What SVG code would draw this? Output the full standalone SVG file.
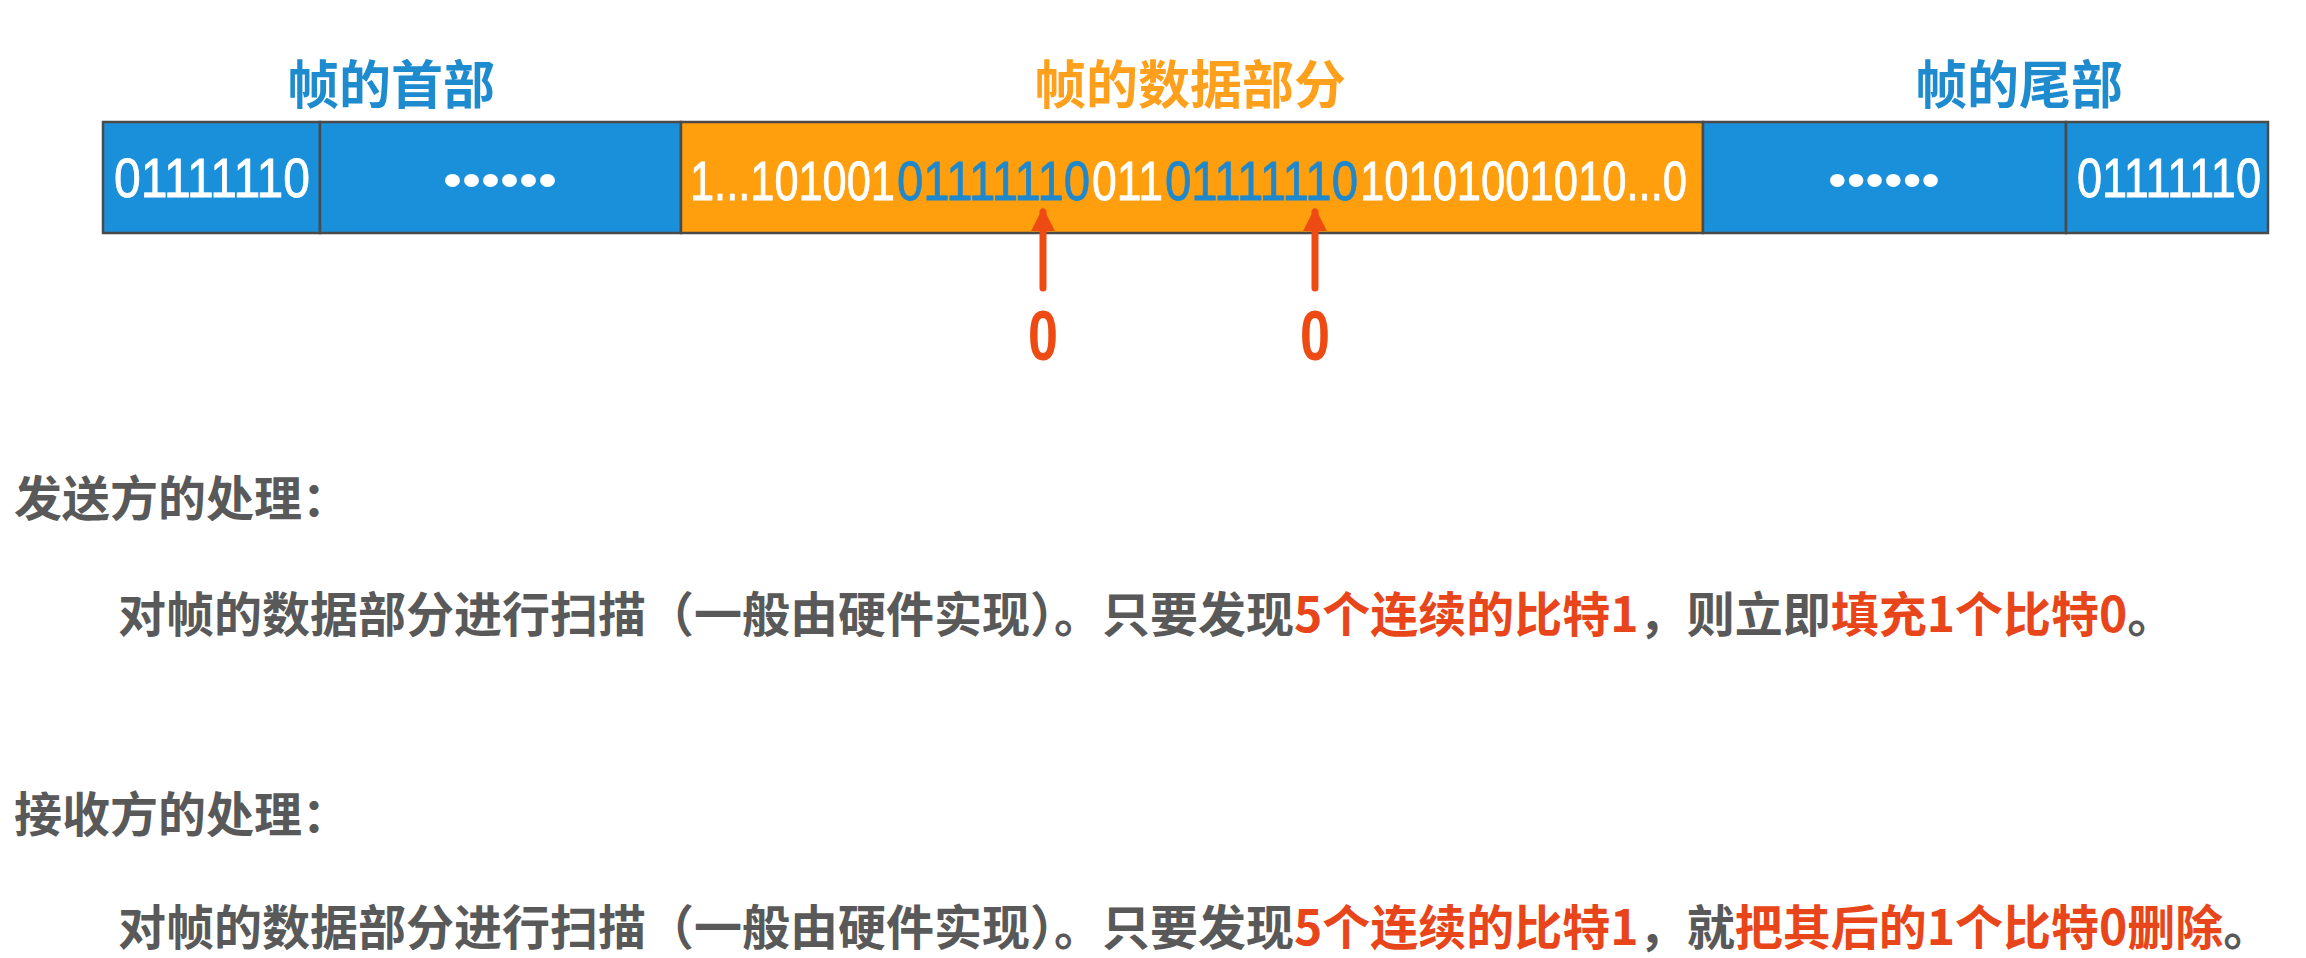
<svg xmlns="http://www.w3.org/2000/svg" width="2306" height="958" viewBox="0 0 2306 958">
<defs>
<style>
.cjk{font-family:"Noto Sans CJK SC","Noto Sans",sans-serif;font-weight:700;}
.title{font-size:52px;text-anchor:middle;}
.bits{font-family:"Liberation Sans",Arial,sans-serif;font-size:56px;fill:#ffffff;stroke:#ffffff;stroke-width:0.8;}
.bb{fill:#1f88cc;stroke:#1f88cc;}
.dots{font-family:"Liberation Sans",Arial,sans-serif;font-size:48px;fill:#ffffff;text-anchor:middle;}
.box{stroke:#4a4a4a;stroke-width:2.5;}
.blue{fill:#1b90da;}
.orange{fill:#ff9f0e;}
.body{font-size:48px;fill:#595959;}
.hl{fill:#e8461a;}
.arrow{stroke:#ee4b14;stroke-width:7;stroke-linecap:round;fill:none;}
.zero{font-family:"Liberation Sans",Arial,sans-serif;font-weight:700;font-size:70px;fill:#ee4b14;text-anchor:middle;}
</style>
<marker id="ah" viewBox="0 0 10 10" refX="8" refY="5" markerWidth="3.4" markerHeight="3.4" orient="auto" markerUnits="strokeWidth">
<path d="M0,0 L10,5 L0,10 Z" fill="#ee4b14"/>
</marker>
</defs>
<rect width="2306" height="958" fill="#ffffff"/>

<g id="label-head"><text class="cjk title" x="391" y="104" fill="#1e8bcf">帧的首部</text></g>
<g id="label-data"><text class="cjk title" x="1190" y="104" fill="#ffa01c">帧的数据部分</text></g>
<g id="label-tail"><text class="cjk title" x="2019" y="104" fill="#1e8bcf">帧的尾部</text></g>

<g id="flag-start">
<rect class="box blue" x="103" y="122" width="217" height="111"/>
<text class="bits" x="114" y="197" textLength="196" lengthAdjust="spacingAndGlyphs">01111110</text>
</g>
<g id="head-rest">
<rect class="box blue" x="320" y="122" width="361" height="111"/>
<text class="dots" x="500" y="196" textLength="114" lengthAdjust="spacingAndGlyphs">••••••</text>
</g>
<g id="data">
<rect class="box orange" x="681" y="122" width="1022" height="111"/>
<g transform="translate(690,200) scale(0.7815,1)">
<text class="bits" x="0" y="0" textLength="262.3" lengthAdjust="spacingAndGlyphs">1...101001</text>
<text class="bits bb" x="264.9" y="0" textLength="247" lengthAdjust="spacingAndGlyphs">01111110</text>
<text class="bits" x="514.4" y="0" textLength="90.9" lengthAdjust="spacingAndGlyphs">011</text>
<text class="bits bb" x="607.8" y="0" textLength="247" lengthAdjust="spacingAndGlyphs">01111110</text>
<text class="bits" x="857.3" y="0" textLength="418.4" lengthAdjust="spacingAndGlyphs">10101001010...0</text>
</g>
</g>
<g id="tail-rest">
<rect class="box blue" x="1703" y="122" width="363" height="111"/>
<text class="dots" x="1884" y="196" textLength="112" lengthAdjust="spacingAndGlyphs">••••••</text>
</g>
<g id="flag-end">
<rect class="box blue" x="2066" y="122" width="202" height="111"/>
<text class="bits" x="2077" y="197" textLength="184" lengthAdjust="spacingAndGlyphs">01111110</text>
</g>

<g id="connectors">
<line class="arrow" x1="1043" y1="288" x2="1043" y2="212" marker-end="url(#ah)"/>
<line class="arrow" x1="1315" y1="288" x2="1315" y2="212" marker-end="url(#ah)"/>
</g>
<g id="zero1"><text class="zero" x="1043" y="360" textLength="30" lengthAdjust="spacingAndGlyphs">0</text></g>
<g id="zero2"><text class="zero" x="1315" y="360" textLength="30" lengthAdjust="spacingAndGlyphs">0</text></g>

<g id="sender">
<text class="cjk body" x="14" y="516">发送方的处理：</text>
<text class="cjk body" x="118" y="632">对帧的数据部分进行扫描（一般由硬件实现）。只要发现<tspan class="hl">5个连续的比特1</tspan>，则立即<tspan class="hl">填充1个比特0</tspan>。</text>
</g>
<g id="receiver">
<text class="cjk body" x="14" y="832">接收方的处理：</text>
<text class="cjk body" x="118" y="945">对帧的数据部分进行扫描（一般由硬件实现）。只要发现<tspan class="hl">5个连续的比特1</tspan>，就<tspan class="hl">把其后的1个比特0删除</tspan>。</text>
</g>
</svg>
